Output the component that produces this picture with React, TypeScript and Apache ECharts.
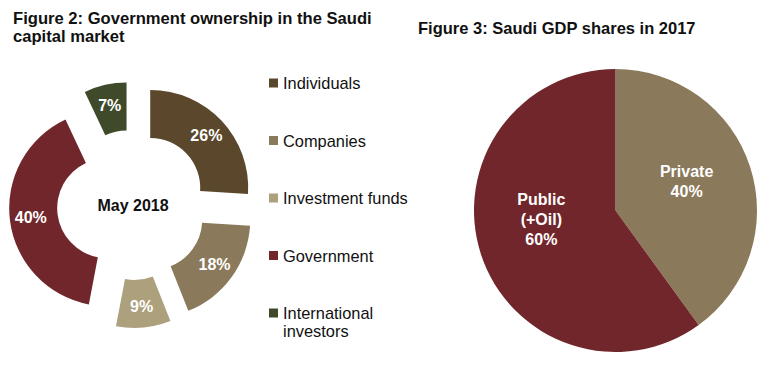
import React, { useEffect, useRef } from "react";
import * as echarts from "echarts";

const ownershipNames = ["Individuals", "Companies", "Investment funds", "Government", "International investors"];
const ownershipValues = [26, 18, 9, 40, 7];
const ownershipColors = ["#5b482c", "#8a795a", "#aca07d", "#71262b", "#3f4a2b"];

const gdpNames = ["Private", "Public (+Oil)"];
const gdpLabels = ["Private", "Public\n(+Oil)"];
const gdpValues = [40, 60];
const gdpColors = ["#8a795a", "#71262b"];

const FONT = "'Liberation Sans', Arial, sans-serif";

export default function App() {
  const ref = useRef<HTMLDivElement>(null);
  useEffect(() => {
    document.body.style.margin = "0";
    if (!ref.current) return;
    const chart = echarts.init(ref.current, null, { renderer: "svg" });
    const legendText = { fontFamily: FONT, fontSize: 16.4, color: "#111", lineHeight: 18 };
    chart.setOption({
      animation: false,
      backgroundColor: "#ffffff",
      title: [
        {
          text: "Figure 2: Government ownership in the Saudi\ncapital market",
          left: 13,
          top: 9,
          padding: 0,
          textStyle: { fontFamily: FONT, fontSize: 16.6, fontWeight: "bold", color: "#111", lineHeight: 18 },
        },
        {
          text: "Figure 3: Saudi GDP shares in 2017",
          left: 418,
          top: 19,
          padding: 0,
          textStyle: { fontFamily: FONT, fontSize: 16.5, fontWeight: "bold", color: "#111", lineHeight: 18 },
        },
      ],
      legend: [
        {
          data: ownershipNames.slice(0, 4),
          orient: "vertical",
          left: 269,
          top: 74,
          padding: 0,
          itemWidth: 9,
          itemHeight: 9,
          itemGap: 39.5,
          icon: "rect",
          selectedMode: false,
          textStyle: legendText,
        },
        {
          data: ownershipNames.slice(4),
          orient: "vertical",
          left: 269,
          top: 286,
          padding: 0,
          itemWidth: 9,
          itemHeight: 9,
          icon: "rect",
          selectedMode: false,
          formatter: () => " \nInternational\ninvestors",
          textStyle: legendText,
        },
      ],
      graphic: [
        {
          type: "text",
          x: 133,
          y: 205,
          style: {
            text: "May 2018",
            fontFamily: FONT,
            fontSize: 16,
            fontWeight: "bold",
            fill: "#111",
            align: "center",
            verticalAlign: "middle",
          },
        },
      ],
      series: [
        {
          type: "pie",
          center: [132, 205],
          radius: [50, 98],
          startAngle: 90,
          clockwise: true,
          selectedMode: "multiple",
          selectedOffset: 25,
          emphasis: { disabled: true },
          label: {
            position: "inside",
            formatter: "{c}%",
            color: "#ffffff",
            fontFamily: FONT,
            fontSize: 16,
            fontWeight: "bold",
          },
          labelLine: { show: false },
          data: ownershipNames.map((n, i) => ({
            name: n,
            value: ownershipValues[i],
            selected: true,
            itemStyle: { color: ownershipColors[i] },
          })),
        },
        {
          type: "pie",
          center: [615.5, 210.5],
          radius: [0, 141.5],
          startAngle: 90,
          clockwise: true,
          selectedMode: false,
          emphasis: { disabled: true },
          label: {
            position: "inside",
            color: "#ffffff",
            fontFamily: FONT,
            fontSize: 16,
            fontWeight: "bold",
            lineHeight: 20,
          },
          labelLayout: (params: any) =>
            params.dataIndex === 0 ? { dx: 1, dy: -6 } : { dx: -4, dy: -14 },
          labelLine: { show: false },
          data: gdpNames.map((n, i) => ({
            name: n,
            value: gdpValues[i],
            itemStyle: { color: gdpColors[i] },
            label: {
              formatter: gdpLabels[i] + "\n" + gdpValues[i] + "%",
            },
          })),
        },
      ],
    });
    return () => chart.dispose();
  }, []);
  return <div ref={ref} style={{ width: 768, height: 377 }} />;
}
